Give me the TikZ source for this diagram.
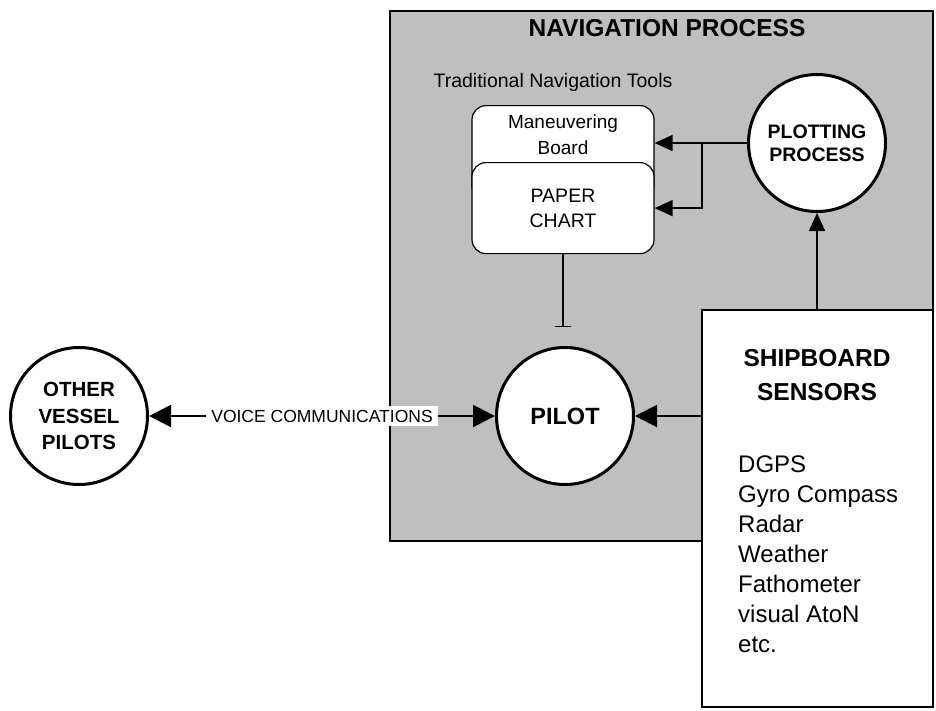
\documentclass[tikz,border=0pt]{standalone}
\usepackage{fontspec}
\setmainfont{Liberation Sans}
\usetikzlibrary{positioning, arrows.meta}

\begin{document}
\begin{tikzpicture}[x=1pt, y=-1pt,
		smalltip/.tip={Triangle[length=18pt, width=16pt]},
		bigtip/.tip={Triangle[length=22pt, width=22pt]},
		proc/.style={circle, draw, line width=3pt, fill=white, minimum size=137pt, inner sep=0pt, align=center},
		tool/.style={rectangle, rounded corners=14pt, draw, line width=1.2pt, fill=white, minimum width=182pt, inner sep=0pt, align=center},
		flow/.style={line width=1.6pt, -smalltip},
		bigflow/.style={line width=2pt, -bigtip}]
	\useasboundingbox (0,0) rectangle (936,710);
	
	% navigation process area
	\draw[line width=1.2pt, fill=black!25] (390,11) rectangle (933,541);
	\node[font=\fontsize{24.5}{30}\selectfont\bfseries] (navtitle) at (667,28) {NAVIGATION PROCESS};
	\node[font=\fontsize{19.5}{24}\selectfont] (tooltitle) at (553,82) {Traditional Navigation Tools};
	
	\node[tool, anchor=north, minimum height=95pt, label={[anchor=center, yshift=-30pt, align=center, font=\fontsize{19}{26}\selectfont]north:{Maneuvering\\Board}}] (board) at (563,105) {};
	\node[tool, minimum height=91pt, below=57pt of board.north, font=\fontsize{19.5}{25}\selectfont] (chart) {PAPER\\CHART};
	
	\node[proc, font=\fontsize{19.5}{23}\selectfont\bfseries] (plot) at (817,143) {PLOTTING\\PROCESS};
	\node[proc, font=\fontsize{23.5}{28}\selectfont\bfseries] (pilot) at (565,416) {PILOT};
	\node[proc, left=346pt of pilot, font=\fontsize{20.5}{26.5}\selectfont\bfseries] (other) {OTHER\\VESSEL\\PILOTS};
	
	% sensors
	\node[rectangle, draw, line width=2.5pt, fill=white, minimum width=231pt, minimum height=397pt, inner sep=0pt] (sens) at (817.5,508.5) {};
	\node[align=center, font=\fontsize{24.5}{34}\selectfont\bfseries] (senshead) at (817,375) {SHIPBOARD\\SENSORS};
	\node[anchor=north west, inner sep=0pt, align=left, font=\fontsize{24}{30}\selectfont] (senslist) at (738,456) {DGPS\\Gyro Compass\\Radar\\Weather\\Fathometer\\visual AtoN\\etc.};
	
	\coordinate (split) at (702,143);
	\draw[flow] (plot.west) -- (plot.west -| board.east);
	\draw[flow] (split) |- (chart.east);
	\draw[flow] (sens.north -| plot.south) -- (plot.south);
	\draw[bigflow] (sens.west |- pilot.east) -- (pilot.east);
	\draw[line width=1.5pt, -{Bar[width=16pt]}, shorten >=19pt] (chart.south) -- (chart.south |- pilot.north);
	\draw[bigflow, bigtip-bigtip] (other.east) -- node[fill=white, inner xsep=5pt, font=\fontsize{17.5}{20}\selectfont] (voice) {VOICE COMMUNICATIONS} (pilot.west);
\end{tikzpicture}
\end{document}
